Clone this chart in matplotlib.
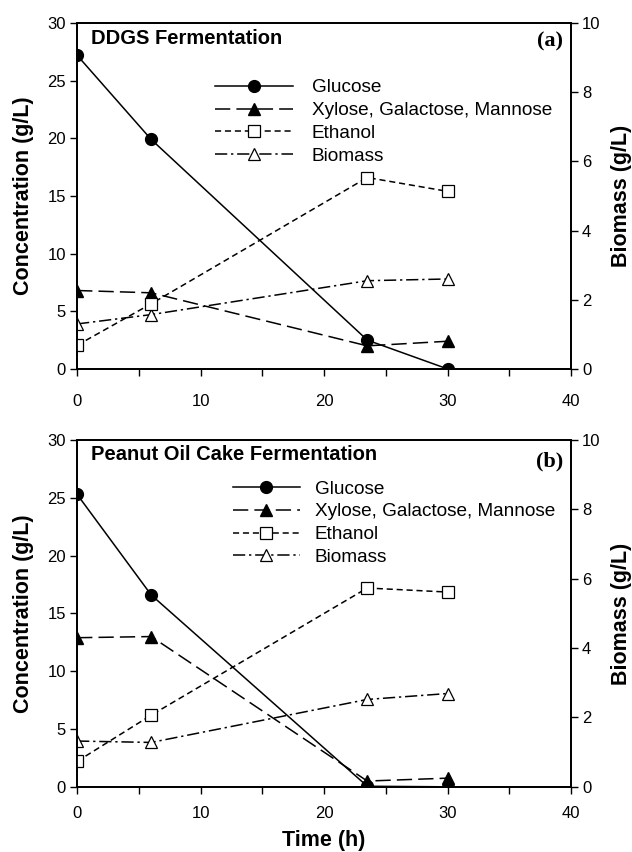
import matplotlib
matplotlib.use("Agg")
import matplotlib.pyplot as plt
from matplotlib.ticker import MultipleLocator

plt.rcParams['font.family'] = ['Liberation Sans', 'DejaVu Sans']

time_h = [0, 6, 23.5, 30]

# Panel (a) DDGS
a_glucose = [27.2, 19.9, 2.5, 0.0]
a_xgm = [6.8, 6.6, 2.0, 2.4]
a_ethanol = [2.05, 5.65, 16.6, 15.4]
a_biomass = [1.3, 1.57, 2.55, 2.6]

# Panel (b) Peanut oil cake
b_glucose = [25.3, 16.6, 0.05, 0.0]
b_xgm = [12.9, 13.0, 0.5, 0.75]
b_ethanol = [2.2, 6.2, 17.2, 16.85]
b_biomass = [1.32, 1.28, 2.52, 2.69]

labels = ["Glucose", "Xylose, Galactose, Mannose", "Ethanol", "Biomass"]
titles = ["DDGS Fermentation", "Peanut Oil Cake Fermentation"]
tags = ["(a)", "(b)"]

fig = plt.figure(figsize=(6.32, 8.52), dpi=100)
axs = [fig.add_axes([0.122, 0.567, 0.7815, 0.406]),
       fig.add_axes([0.122, 0.0765, 0.7815, 0.407])]

data = [(a_glucose, a_xgm, a_ethanol, a_biomass),
        (b_glucose, b_xgm, b_ethanol, b_biomass)]
leg_pos = [(0.279, 0.838), (0.316, 0.884)]
leg_hl = [4.1, 3.5]
leg_pad = [1.0, 0.8]
title_y = [0.954, 0.957]
tag_y = [0.948, 0.937]
xpad = [13, 9]

for i, ax in enumerate(axs):
    g, x, e, b = data[i]
    ax2 = ax.twinx()
    l1, = ax.plot(time_h, g, color='black', lw=1.1, ls='-', marker='o', ms=8.5,
                  mfc='black', mec='black')
    l2, = ax.plot(time_h, x, color='black', lw=1.1, ls=(0, (10, 4)), marker='^', ms=8,
                  mfc='black', mec='black')
    l3, = ax.plot(time_h, e, color='black', lw=1.1, ls=(0, (4, 2.5)), marker='s', ms=8,
                  mfc='white', mec='black', mew=0.9)
    l4, = ax2.plot(time_h, b, color='black', lw=1.1, ls=(0, (8, 2.5, 1.5, 2.5)), marker='^', ms=8,
                   mfc='white', mec='black', mew=0.9)
    for a_ in (ax, ax2):
        a_.set_xlim(0, 40)
        for s in a_.spines.values():
            s.set_linewidth(1.3)
    ax.set_ylim(0, 30)
    ax2.set_ylim(0, 10)
    ax.xaxis.set_major_locator(MultipleLocator(10))
    ax.xaxis.set_minor_locator(MultipleLocator(5))
    ax.yaxis.set_major_locator(MultipleLocator(5))
    ax2.yaxis.set_major_locator(MultipleLocator(2))
    ax.tick_params(axis='y', which='major', direction='out', length=5, width=1,
                   labelsize=12, pad=3)
    ax.tick_params(axis='x', which='major', direction='out', length=5, width=1,
                   labelsize=12, pad=xpad[i])
    ax.tick_params(axis='x', which='minor', direction='out', length=5, width=1)
    ax2.tick_params(axis='y', direction='out', length=5, width=1, labelsize=12, pad=3)
    ax.set_ylabel("Concentration (g/L)", fontsize=15.5, fontweight='bold')
    ax.yaxis.set_label_coords(-0.087, 0.5)
    ax2.set_ylabel("Biomass (g/L)", fontsize=15.5, fontweight='bold')
    ax2.yaxis.set_label_coords(1.081, 0.5)
    ax.text(0.028, title_y[i], titles[i], transform=ax.transAxes, fontsize=14.5,
            fontweight='bold', ha='left', va='center')
    ax.text(0.984, tag_y[i], tags[i], transform=ax.transAxes,
            fontsize=16, fontweight='bold', ha='right', va='center',
            family=['Liberation Serif', 'DejaVu Serif'])
    leg = ax.legend([l1, l2, l3, l4], labels, loc='upper left',
                    bbox_to_anchor=leg_pos[i], frameon=False, fontsize=13.7,
                    handlelength=leg_hl[i], handletextpad=leg_pad[i], labelspacing=0.29,
                    borderpad=0, borderaxespad=0)
    ax.set_zorder(ax2.get_zorder() + 1)
    ax.patch.set_visible(False)

axs[1].set_xlabel("Time (h)", fontsize=15.5, fontweight='bold')
axs[1].xaxis.set_label_coords(0.5, -0.124)

fig.savefig("out.png", dpi=100)
